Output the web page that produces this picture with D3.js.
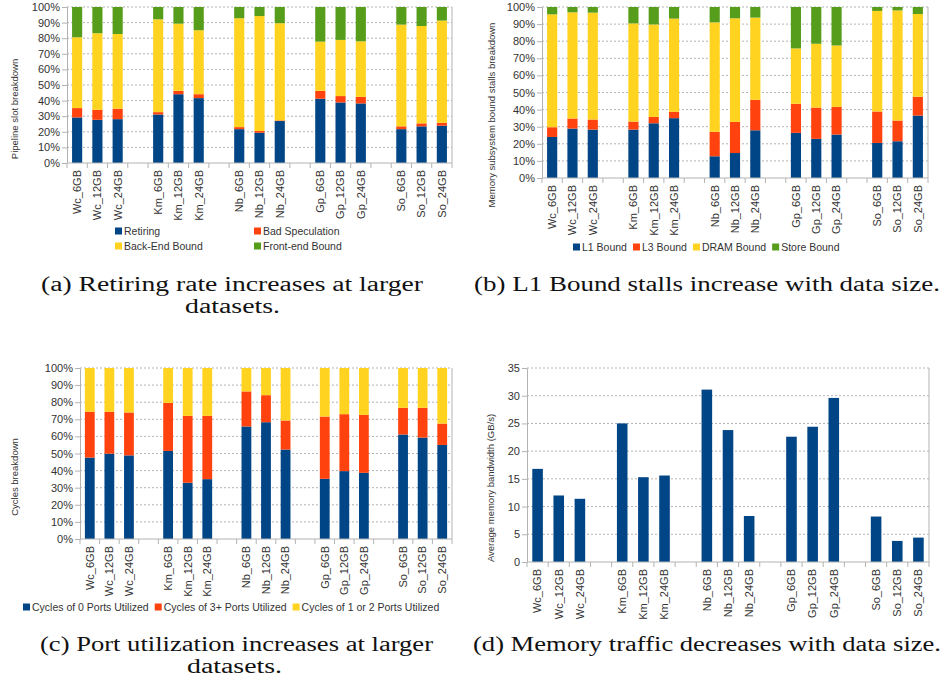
<!DOCTYPE html>
<html>
<head>
<meta charset="utf-8">
<script src="https://cdn.jsdelivr.net/npm/d3@7"></script>
<style>
    body { margin: 0; background: #fff; }
    svg text { font-family: "Liberation Sans", Arial, sans-serif; fill: #333; }
    svg text.caption { font-family: "Liberation Serif", "Times New Roman", serif; fill: #111; font-size: 20px; }
</style>
</head>
<body>
<svg id="chart" width="946" height="689"></svg>
<script>
const categories = ["Wc_6GB", "Wc_12GB", "Wc_24GB", "Km_6GB", "Km_12GB", "Km_24GB",
    "Nb_6GB", "Nb_12GB", "Nb_24GB", "Gp_6GB", "Gp_12GB", "Gp_24GB", "So_6GB", "So_12GB", "So_24GB"];

// (a) pipeline slot breakdown, %
const retiring = [29.2, 27.7, 28.1, 31.1, 44.1, 41.6, 21.7, 19.4, 26.9, 41.2, 38.8, 38.2, 21.7, 23.5, 23.9];
const badSpeculation = [6.0, 6.4, 6.7, 1.5, 2.2, 2.5, 1.3, 1.1, 0.4, 5.1, 4.1, 4.2, 1.8, 1.9, 1.9];
const backEndBound = [45.4, 49.1, 47.9, 59.5, 43.0, 41.0, 69.8, 73.7, 62.3, 31.5, 36.0, 35.6, 65.2, 62.4, 65.5];
const frontEndBound = [19.4, 16.8, 17.3, 7.9, 10.7, 14.9, 7.2, 5.8, 10.4, 22.2, 21.1, 22.0, 11.3, 12.2, 8.7];

// (b) memory subsystem bound stalls, %
const l1Bound = [24.0, 28.9, 28.3, 28.3, 32.0, 35.0, 12.7, 14.6, 27.9, 26.4, 22.9, 25.4, 20.5, 21.5, 36.5];
const l3Bound = [5.7, 5.9, 5.9, 4.7, 3.7, 3.7, 14.3, 18.2, 17.8, 17.0, 18.3, 16.2, 18.4, 12.1, 11.0];
const dramBound = [66.0, 62.1, 62.5, 57.4, 54.1, 54.5, 64.0, 60.6, 48.1, 32.4, 37.3, 35.9, 58.8, 64.4, 48.4];
const storeBound = [4.3, 3.1, 3.3, 9.6, 10.2, 6.8, 9.0, 6.6, 6.2, 24.2, 21.5, 22.5, 2.3, 2.0, 4.1];

// (c) cycles breakdown, %
const zeroPorts = [47.6, 49.9, 48.9, 51.5, 32.9, 35.0, 65.8, 68.3, 52.3, 35.2, 39.7, 38.7, 61.1, 59.3, 55.0];
const threePlusPorts = [26.8, 24.5, 25.1, 28.1, 39.1, 37.0, 20.5, 15.8, 17.0, 36.4, 33.3, 33.9, 15.6, 17.4, 12.5];
const oneOrTwoPorts = [25.6, 25.6, 26.0, 20.4, 28.0, 28.0, 13.7, 15.9, 30.7, 28.4, 27.0, 27.4, 23.3, 23.3, 32.5];

// (d) average memory bandwidth, GB/s
const bandwidth = [16.8, 12.0, 11.4, 25.0, 15.3, 15.6, 31.1, 23.8, 8.3, 22.6, 24.4, 29.6, 8.2, 3.8, 4.4];

const percentTicks = [0, 10, 20, 30, 40, 50, 60, 70, 80, 90, 100];
const bandwidthTicks = [0, 5, 10, 15, 20, 25, 30, 35];

const BLUE = "#004586", RED = "#ff420e", YELLOW = "#ffd320", GREEN = "#579d1c";
const AXIS = "#b3b3b3";

let svg = d3.select("#chart");

// one empty slot between each benchmark group
let slots = [];
categories.forEach((c, i) => {
    slots.push(c);
    if (i % 3 == 2 && i < categories.length - 1) slots.push(`gap${i}`);
});

let drawPanel = p => {
    let g = svg.append("g");
    let x = d3.scaleBand().domain(slots).range([p.left, p.right]);
    let y = d3.scaleLinear().domain([0, d3.max(p.ticks)]).range([p.bottom, p.top]);

    g.selectAll(".grid").data(p.ticks.slice(1)).enter()
        .append("line")
        .attr("x1", p.left).attr("x2", p.right)
        .attr("y1", d => y(d)).attr("y2", d => y(d))
        .attr("stroke", AXIS)
        .attr("stroke-dasharray", "2,2");

    g.append("line")
        .attr("x1", p.right).attr("x2", p.right)
        .attr("y1", p.top).attr("y2", p.bottom)
        .attr("stroke", AXIS);

    let rows = categories.map((c, i) => {
        let r = { cat: c };
        p.series.forEach(s => r[s.key] = s.values[i]);
        return r;
    });
    let stacked = d3.stack().keys(p.series.map(s => s.key))(rows);

    g.selectAll(".series").data(stacked).enter()
        .append("g")
        .attr("fill", (d, i) => p.series[i].color)
        .selectAll("rect").data(d => d).enter()
        .append("rect")
        .attr("x", d => x(d.data.cat) + x.bandwidth() * 0.25)
        .attr("width", x.bandwidth() * 0.5)
        .attr("y", d => y(d[1]))
        .attr("height", d => y(d[0]) - y(d[1]));

    let yAxis = g.append("g")
        .attr("transform", `translate(${p.left}, 0)`)
        .call(d3.axisLeft(y).tickValues(p.ticks).tickSize(5).tickSizeOuter(0).tickPadding(2).tickFormat(p.format));
    yAxis.selectAll("path, line").attr("stroke", AXIS);
    yAxis.selectAll("text").style("font-size", "11px").attr("fill", "#333");

    g.append("line")
        .attr("x1", p.left).attr("x2", p.right)
        .attr("y1", p.bottom).attr("y2", p.bottom)
        .attr("stroke", AXIS);

    g.selectAll(".xtick").data(slots.map(s => x(s)).concat([p.right])).enter()
        .append("line")
        .attr("x1", d => d).attr("x2", d => d)
        .attr("y1", p.bottom).attr("y2", p.bottom + 5)
        .attr("stroke", AXIS);

    g.selectAll(".xlabel").data(categories).enter()
        .append("text")
        .attr("transform", d => `translate(${x(d) + x.bandwidth() / 2}, ${p.bottom + 7}) rotate(-90)`)
        .attr("text-anchor", "end")
        .attr("dy", "0.35em")
        .style("font-size", "11px")
        .text(d => d);

    g.append("text")
        .attr("transform", `translate(${p.titleX}, ${p.titleY}) rotate(-90)`)
        .attr("text-anchor", "middle")
        .attr("dy", "0.35em")
        .style("font-size", "9.5px")
        .text(p.title);

    return g;
};

let legendItem = (g, s, lx, ly) => {
    g.append("rect")
        .attr("x", lx).attr("y", ly - 3.5)
        .attr("width", 7).attr("height", 7)
        .attr("fill", s.color);
    return g.append("text")
        .attr("x", lx + 9).attr("y", ly)
        .attr("dy", "0.35em")
        .style("font-size", "10.5px")
        .text(s.label);
};

let legendRow = (g, series, lx, ly) => {
    series.forEach(s => {
        let t = legendItem(g, s, lx, ly);
        lx += 9 + t.node().getComputedTextLength() + 6;
    });
};

let seriesA = [
    { key: "retiring", label: "Retiring", values: retiring, color: BLUE },
    { key: "bad", label: "Bad Speculation", values: badSpeculation, color: RED },
    { key: "back", label: "Back-End Bound", values: backEndBound, color: YELLOW },
    { key: "front", label: "Front-end Bound", values: frontEndBound, color: GREEN }
];
let seriesB = [
    { key: "l1", label: "L1 Bound", values: l1Bound, color: BLUE },
    { key: "l3", label: "L3 Bound", values: l3Bound, color: RED },
    { key: "dram", label: "DRAM Bound", values: dramBound, color: YELLOW },
    { key: "store", label: "Store Bound", values: storeBound, color: GREEN }
];
let seriesC = [
    { key: "zero", label: "Cycles of 0 Ports Utilized", values: zeroPorts, color: BLUE },
    { key: "three", label: "Cycles of 3+ Ports Utilized", values: threePlusPorts, color: RED },
    { key: "onetwo", label: "Cycles of 1 or 2 Ports Utilized", values: oneOrTwoPorts, color: YELLOW }
];
let seriesD = [
    { key: "bw", label: "Average memory bandwidth", values: bandwidth, color: BLUE }
];

let pct = d => `${d}%`;

let gA = drawPanel({ left: 67, right: 452, top: 7, bottom: 163, ticks: percentTicks, format: pct,
    series: seriesA, title: "Pipeline slot breakdown", titleX: 15, titleY: 109 });
legendItem(gA, seriesA[0], 115, 231);
legendItem(gA, seriesA[1], 254, 231);
legendItem(gA, seriesA[2], 115, 246);
legendItem(gA, seriesA[3], 254, 246);

let gB = drawPanel({ left: 542, right: 928, top: 7, bottom: 178, ticks: percentTicks, format: pct,
    series: seriesB, title: "Memory subsystem bound stalls breakdown", titleX: 492, titleY: 115 });
legendRow(gB, seriesB, 573, 247);

let gC = drawPanel({ left: 80, right: 452, top: 368, bottom: 539, ticks: percentTicks, format: pct,
    series: seriesC, title: "Cycles breakdown", titleX: 15, titleY: 477 });
legendRow(gC, seriesC, 23, 607);

drawPanel({ left: 527, right: 929, top: 368, bottom: 562, ticks: bandwidthTicks, format: d3.format("d"),
    series: seriesD, title: "Average memory bandwidth (GB/s)", titleX: 491, titleY: 488 });

// sub-figure captions
let captions = [
    { text: "(a) Retiring rate increases at larger", x: 41, y: 291, w: 382 },
    { text: "datasets.", x: 185, y: 313, w: 95 },
    { text: "(b) L1 Bound stalls increase with data size.", x: 474, y: 291, w: 466 },
    { text: "(c) Port utilization increases at larger", x: 40, y: 651, w: 393 },
    { text: "datasets.", x: 187, y: 673, w: 95 },
    { text: "(d) Memory traffic decreases with data size.", x: 473, y: 651, w: 468 }
];
svg.selectAll(".caption").data(captions).enter()
    .append("text")
    .attr("class", "caption")
    .attr("x", d => d.x)
    .attr("y", d => d.y)
    .attr("textLength", d => d.w)
    .attr("lengthAdjust", "spacingAndGlyphs")
    .text(d => d.text);
</script>
</body>
</html>
